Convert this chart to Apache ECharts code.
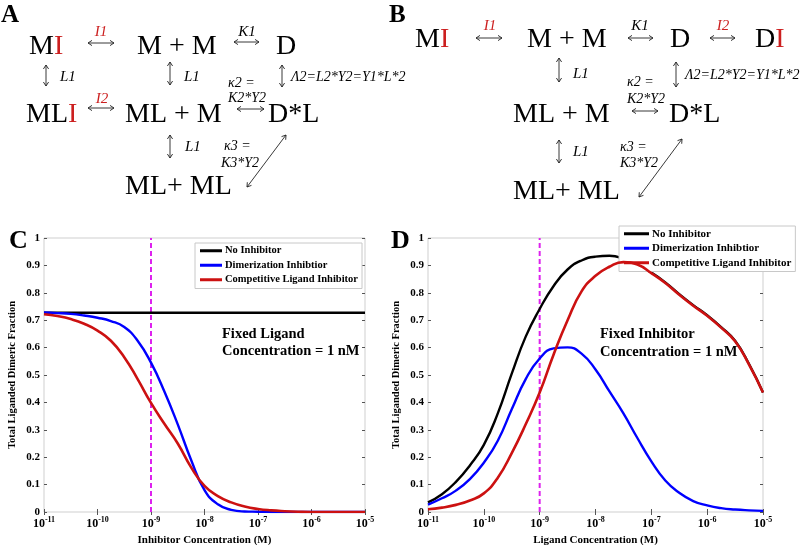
<!DOCTYPE html>
<html><head><meta charset="utf-8">
<script src="https://cdn.jsdelivr.net/npm/echarts@6/dist/echarts.min.js"></script>
<style>html,body{margin:0;padding:0;background:#fff}#c{width:800px;height:545px}</style>
</head><body><div id="c"></div>
<script>
// ---- data (x given as log10 of concentration, M) ----
const logConc = [-11,-10.75,-10.5,-10.25,-10,-9.75,-9.5,-9.25,-9,-8.75,-8.5,-8.25,-8,-7.75,-7.5,-7.25,-7,-6.75,-6.5,-6.25,-6,-5.75,-5.5,-5.25,-5];
const seriesNames = ['No Inhibitor','Dimerization Inhibtior','Competitive Ligand Inhibitor'];
// Panel C: fixed ligand, varying inhibitor
const cNoInhib  = [0.727,0.727,0.727,0.727,0.727,0.727,0.727,0.727,0.727,0.727,0.727,0.727,0.727,0.727,0.727,0.727,0.727,0.727,0.727,0.727,0.727,0.727,0.727,0.727,0.727];
const cDimInhib = [0.728,0.726,0.723,0.717,0.709,0.697,0.675,0.625,0.545,0.44,0.32,0.19,0.08,0.028,0.008,0.002,0.001,0,0,0,0,0,0,0,0];
const cCompInhib= [0.722,0.715,0.704,0.687,0.662,0.625,0.565,0.485,0.398,0.322,0.25,0.163,0.095,0.058,0.035,0.02,0.011,0.006,0.003,0.001,0,0,0,0,0];
// Panel D: fixed inhibitor, varying ligand
const dNoInhib  = [0.035,0.065,0.11,0.17,0.245,0.36,0.505,0.64,0.741,0.825,0.885,0.918,0.932,0.935,0.925,0.902,0.874,0.838,0.795,0.755,0.718,0.675,0.625,0.54,0.436];
const dDimInhib = [0.027,0.05,0.078,0.12,0.18,0.26,0.375,0.485,0.56,0.597,0.601,0.578,0.52,0.44,0.36,0.27,0.185,0.115,0.07,0.04,0.024,0.014,0.009,0.006,0.004];
const dCompInhib= [0.010,0.016,0.026,0.042,0.068,0.125,0.215,0.32,0.436,0.575,0.70,0.805,0.862,0.895,0.912,0.903,0.872,0.836,0.793,0.753,0.716,0.673,0.623,0.538,0.436];
const refConc = 1e-9;          // dashed reference line (1 nM)
const refSpan = [0, 1];        // its vertical extent (fraction)

const SERIF = '"Liberation Serif","Times New Roman",serif';
const colors = ['#000000','#0000ff','#cc1111'];
const pts = arr => arr.map((v,i)=>[Math.pow(10,logConc[i]), v]);

function xAx(gi, name, show){
  return {
    type:'log', logBase:10, gridIndex:gi, min:1e-11, max:1e-5, position: show?'bottom':'top',
    name: show?name:'', nameLocation:'middle', nameGap:22,
    nameTextStyle:{fontFamily:SERIF,fontWeight:'bold',fontSize:11,color:'#000'},
    axisLine:{show:false},
    axisTick:{show:true,inside:true,length:3,lineStyle:{color:'#555'}},
    splitLine:{show:false},
    axisLabel:{show:show, margin:4, fontFamily:SERIF, color:'#000',
      formatter: v => '{b|10}{s|' + Math.round(Math.log10(v)) + '}',
      rich:{b:{fontFamily:SERIF,fontWeight:'bold',fontSize:12,lineHeight:14,verticalAlign:'bottom',color:'#000'},
            s:{fontFamily:SERIF,fontWeight:'bold',fontSize:8,lineHeight:8,verticalAlign:'top',color:'#000'}}}
  };
}
function yAx(gi, show){
  return {
    type:'value', gridIndex:gi, min:0, max:1, interval:0.1, position: show?'left':'right',
    name: show?'Total Liganded Dimeric Fraction':'', nameLocation:'middle', nameGap:26,
    nameTextStyle:{fontFamily:SERIF,fontWeight:'bold',fontSize:10.5,color:'#000'},
    axisLine:{show:false},
    axisTick:{show:true,inside:true,length:3,lineStyle:{color:'#555'}},
    splitLine:{show:false},
    axisLabel:{show:show, margin:4, fontFamily:SERIF, fontWeight:'bold', fontSize:11, color:'#000'}
  };
}
function mkSeries(data, idx, xi, yi){
  return {
    type:'line', name:seriesNames[idx], xAxisIndex:xi, yAxisIndex:yi,
    data: pts(data), showSymbol:false, smooth:0.5, z: 3+idx,
    lineStyle:{color:colors[idx], width: idx===2?2.6:2.4}, itemStyle:{color:colors[idx]}
  };
}
function refLine(xi, yi){
  return {type:'line', name:'ref', xAxisIndex:xi, yAxisIndex:yi, silent:true, showSymbol:false, z:2,
    data: refSpan.map(v=>[refConc, v]), lineStyle:{color:'#dd22ee', type:[5,3], width:2}};
}

// ---- diagram helpers ----
const BIG = '28px ' + SERIF, IT = 'italic 15px ' + SERIF, IT2 = 'italic 14px ' + SERIF;
const RED = '#cc1f1f';
function txt(t, x, y, font, fill, align){
  return {type:'text', x, y, silent:true, style:{text:t, font, fill:fill||'#000', textAlign:align||'left', textVerticalAlign:'middle'}};
}
function rich(a, b, x, y){
  return {type:'text', x, y, silent:true, style:{text:'{k|'+a+'}{r|'+b+'}', textAlign:'left', textVerticalAlign:'middle',
    rich:{k:{font:BIG, fill:'#000'}, r:{font:BIG, fill:RED}}}};
}
function arrow(x1,y1,x2,y2){
  const L = Math.hypot(x2-x1,y2-y1), ux=(x2-x1)/L, uy=(y2-y1)/L, h=4, w=2.6;
  const head=(px,py,dx,dy)=>({type:'polyline', silent:true, shape:{points:[[px-dx*h-dy*w, py-dy*h+dx*w],[px,py],[px-dx*h+dy*w, py-dy*h-dx*w]]}, style:{stroke:'#222', lineWidth:0.9, fill:null}});
  return [
    {type:'line', silent:true, shape:{x1,y1,x2,y2}, style:{stroke:'#222', lineWidth:0.9}},
    head(x2,y2,ux,uy), head(x1,y1,-ux,-uy)
  ];
}
const g = [];
// Panel A
g.push(txt('A',1,16,'bold 25px '+SERIF));
g.push(rich('M','I',29,47));
g.push(...arrow(88,43,114,43)); g.push(txt('I1',101,32,IT,RED,'center'));
g.push(txt('M + M',137,47,BIG));
g.push(...arrow(234,42,259,42)); g.push(txt('K1',247,32,IT,'#000','center'));
g.push(txt('D',276,47,BIG));
g.push(...arrow(46,65,46,86)); g.push(txt('L1',60,77,IT));
g.push(...arrow(170,62,170,85)); g.push(txt('L1',184,77,IT));
g.push(...arrow(282,65,282,87)); g.push(txt('\u039B2=L2*Y2=Y1*L*2',291,77,IT2));
g.push(txt('\u03BA2 =',228,83,IT2)); g.push(txt('K2*Y2',228,98,IT2));
g.push(...arrow(237,109,264,109));
g.push(rich('ML','I',26,115));
g.push(...arrow(88,108,114,108)); g.push(txt('I2',102,99,IT,RED,'center'));
g.push(txt('ML + M',125,115,BIG));
g.push(txt('D*L',268,115,BIG));
g.push(...arrow(170,135,170,158)); g.push(txt('L1',185,147,IT));
g.push(txt('\u03BA3 =',224,146,IT2)); g.push(txt('K3*Y2',221,163,IT2));
g.push(...arrow(247,187,286,135));
g.push(txt('ML+ ML',125,187,BIG));
// Panel B
g.push(txt('B',389,16,'bold 25px '+SERIF));
g.push(rich('M','I',415,40));
g.push(...arrow(476,38,502,38)); g.push(txt('I1',490,26,IT,RED,'center'));
g.push(txt('M + M',527,40,BIG));
g.push(...arrow(628,38,653,38)); g.push(txt('K1',640,26,IT,'#000','center'));
g.push(txt('D',670,40,BIG));
g.push(...arrow(710,38,735,38)); g.push(txt('I2',723,26,IT,RED,'center'));
g.push(rich('D','I',755,40));
g.push(...arrow(559,58,559,82)); g.push(txt('L1',573,74,IT));
g.push(...arrow(676,62,676,87)); g.push(txt('\u039B2=L2*Y2=Y1*L*2',685,75,IT2));
g.push(txt('\u03BA2 =',627,82,IT2)); g.push(txt('K2*Y2',627,99,IT2));
g.push(...arrow(632,111,658,111));
g.push(txt('ML + M',513,115,BIG));
g.push(txt('D*L',669,115,BIG));
g.push(...arrow(559,140,559,163)); g.push(txt('L1',573,152,IT));
g.push(txt('\u03BA3 =',620,147,IT2)); g.push(txt('K3*Y2',620,163,IT2));
g.push(...arrow(639,197,682,139));
g.push(txt('ML+ ML',513,192,BIG));
// panel letters & notes
g.push(txt('C',9,241,'bold 26px '+SERIF));
g.push(txt('D',391,241,'bold 26px '+SERIF));
const NOTE = 'bold 14.5px ' + SERIF;
g.push(txt('Fixed Ligand',222,334,NOTE)); g.push(txt('Concentration = 1 nM',222,351,NOTE));
g.push(txt('Fixed Inhibitor',600,334,NOTE)); g.push(txt('Concentration = 1 nM',600,352,NOTE));

function legend(left, top, fs, iw){
  return {orient:'vertical', left, top, data:seriesNames, icon:'rect', itemWidth:iw, itemHeight:3, itemGap:1,
    padding:[1,4,2,5], backgroundColor:'#fff', borderColor:'#c8c8c8', borderWidth:1, selectedMode:false,
    textStyle:{fontFamily:SERIF, fontWeight:'bold', fontSize:fs, lineHeight:13.5, color:'#000', padding:[0,0,0,-2]}};
}

const option = {
  animation:false, backgroundColor:'#fff',
  grid:[
    {left:44, right:435, top:238, bottom:33, show:true, borderColor:'#cfcfcf', borderWidth:1, backgroundColor:'#fff', containLabel:false, outerBoundsMode:'none'},
    {left:428, right:37, top:238, bottom:33, show:true, borderColor:'#cfcfcf', borderWidth:1, backgroundColor:'#fff', containLabel:false, outerBoundsMode:'none'}
  ],
  xAxis:[xAx(0,'Inhibitor Concentration (M)',true), xAx(0,'',false), xAx(1,'Ligand Concentration (M)',true), xAx(1,'',false)],
  yAxis:[yAx(0,true), yAx(0,false), yAx(1,true), yAx(1,false)],
  legend:[legend(195,243,10.5,22), legend(619,226,11,25)],
  graphic: g,
  series:[
    refLine(0,0), refLine(2,2),
    mkSeries(cNoInhib,0,0,0), mkSeries(cDimInhib,1,0,0), mkSeries(cCompInhib,2,0,0),
    mkSeries(dNoInhib,0,2,2), mkSeries(dDimInhib,1,2,2), mkSeries(dCompInhib,2,2,2)
  ]
};
const chart = echarts.init(document.getElementById('c'), null, {renderer:'canvas'});
chart.setOption(option);
</script></body></html>
